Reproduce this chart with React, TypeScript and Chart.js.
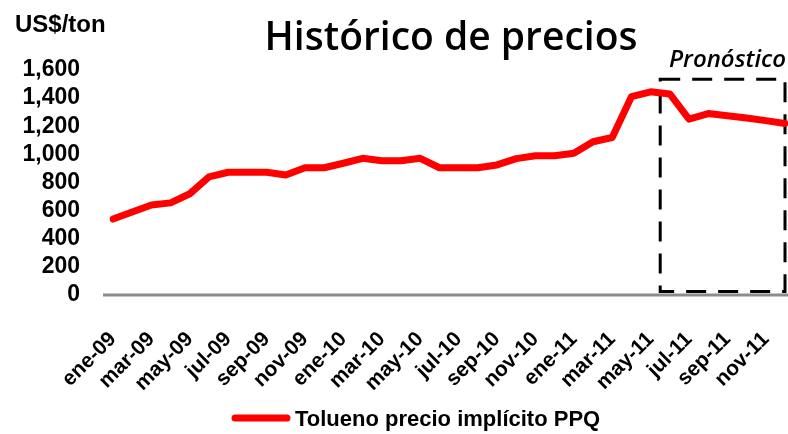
import React, { useEffect, useRef } from "react";
import { Chart, registerables } from "chart.js";

Chart.register(...registerables);

const months: string[] = [
  "ene-09", "feb-09", "mar-09", "abr-09", "may-09", "jun-09", "jul-09", "ago-09", "sep-09", "oct-09", "nov-09", "dic-09",
  "ene-10", "feb-10", "mar-10", "abr-10", "may-10", "jun-10", "jul-10", "ago-10", "sep-10", "oct-10", "nov-10", "dic-10",
  "ene-11", "feb-11", "mar-11", "abr-11", "may-11", "jun-11", "jul-11", "ago-11", "sep-11", "oct-11", "nov-11", "dic-11",
];

const tolueno: number[] = [
  540, 590, 640, 655, 720, 840, 873, 873, 873, 853, 905, 905,
  937, 972, 955, 955, 972, 905, 905, 905, 925, 970, 990, 990,
  1008, 1090, 1120, 1410, 1445, 1430, 1250, 1290, 1275, 1258, 1240, 1220,
];

const yTicks: number[] = [0, 200, 400, 600, 800, 1000, 1200, 1400, 1600];

const titleText = "Histórico de precios";
const unitText = "US$/ton";
const forecastText = "Pronóstico";
const seriesName = "Tolueno precio implícito PPQ";

// forecast box in data coordinates (category index / value)
const forecastBox = { fromIndex: 28.5, toIndex: 35, low: 25, high: 1535 };

const overlay = {
  id: "overlay",
  beforeDatasetsDraw(chart: any) {
    const { ctx, scales } = chart;
    const x = scales.x;
    const y = scales.y;
    const y0 = y.getPixelForValue(0);
    ctx.save();
    ctx.strokeStyle = "#8c8c8c";
    ctx.lineWidth = 3;
    ctx.beginPath();
    ctx.moveTo(chart.chartArea.left - 10, y0);
    ctx.lineTo(chart.width, y0);
    ctx.stroke();
    const x1 = x.getPixelForValue(forecastBox.fromIndex);
    const x2 = x.getPixelForValue(forecastBox.toIndex);
    const y1 = y.getPixelForValue(forecastBox.high);
    const y2 = y.getPixelForValue(forecastBox.low);
    ctx.strokeStyle = "#000";
    ctx.lineWidth = 3;
    ctx.setLineDash([20, 12]);
    ctx.strokeRect(x1, y1, x2 - x1, y2 - y1);
    ctx.setLineDash([]);
    ctx.restore();
  },
  afterDraw(chart: any) {
    const { ctx } = chart;
    ctx.save();
    ctx.fillStyle = "#000";
    ctx.font = "600 39px 'Open Sans'";
    ctx.textAlign = "center";
    ctx.textBaseline = "alphabetic";
    ctx.fillText(titleText, 451, 50);
    ctx.font = "bold 24px 'Liberation Sans'";
    ctx.textAlign = "left";
    ctx.fillText(unitText, 15, 32);
    ctx.font = "italic 600 24px 'Open Sans'";
    ctx.textAlign = "right";
    ctx.fillText(forecastText, 786, 67);
    ctx.strokeStyle = "#ff0000";
    ctx.lineWidth = 7;
    ctx.lineCap = "round";
    ctx.beginPath();
    ctx.moveTo(235, 418);
    ctx.lineTo(287, 418);
    ctx.stroke();
    ctx.font = "bold 22px 'Liberation Sans'";
    ctx.textAlign = "left";
    ctx.textBaseline = "middle";
    ctx.fillText(seriesName, 295, 420);
    ctx.restore();
  },
};

export default function App() {
  const ref = useRef<HTMLCanvasElement | null>(null);
  useEffect(() => {
    document.body.style.margin = "0";
    if (!ref.current) return;
    const chart = new Chart(ref.current, {
      type: "line",
      data: {
        labels: months,
        datasets: [
          {
            label: seriesName,
            data: tolueno,
            borderColor: "#ff0000",
            backgroundColor: "#ff0000",
            borderWidth: 7,
            pointRadius: 0,
            tension: 0,
            borderCapStyle: "round",
            borderJoinStyle: "round",
          },
        ],
      },
      options: {
        responsive: false,
        animation: false,
        layout: { padding: { left: 0, right: 3, top: 70, bottom: 0 } },
        plugins: {
          legend: { display: false },
          title: { display: false },
          tooltip: { enabled: false },
        },
        scales: {
          x: {
            offset: false,
            grid: { display: false, drawTicks: false },
            border: { display: false },
            ticks: {
              autoSkip: false,
              maxRotation: 45,
              minRotation: 45,
              padding: 32,
              color: "#000",
              font: { family: "'Liberation Sans'", weight: "bold", size: 21 },
              callback: (_v: any, i: number) => (i % 2 === 0 ? months[i] : ""),
            },
            afterFit: (s: any) => {
              s.height = 139;
              s.paddingLeft = 0;
              s.paddingRight = 0;
            },
          },
          y: {
            min: 0,
            max: 1600,
            grid: { display: false, drawTicks: false },
            border: { display: false },
            afterBuildTicks: (s: any) => {
              s.ticks = yTicks.map((v) => ({ value: v }));
            },
            ticks: {
              autoSkip: false,
              padding: 33,
              color: "#000",
              font: { family: "'Liberation Sans'", weight: "bold", size: 23 },
              callback: (v: any) => Number(v).toLocaleString("en-US"),
            },
            afterFit: (s: any) => {
              s.width = 113;
              s.paddingTop = 0;
              s.paddingBottom = 0;
            },
          },
        },
      },
      plugins: [overlay],
    });
    return () => chart.destroy();
  }, []);
  return (
    <div style={{ width: 788, height: 434 }}>
      <canvas ref={ref} width={788} height={434} />
    </div>
  );
}
